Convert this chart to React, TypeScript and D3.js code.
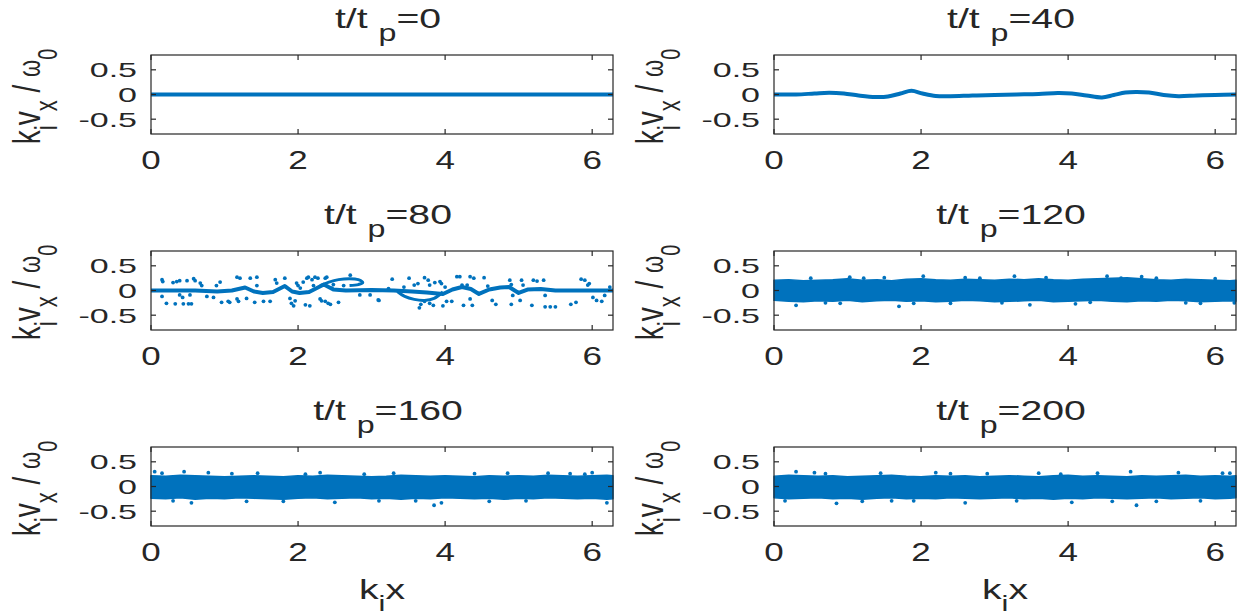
import React from 'react';
import * as d3 from 'd3';

// ---------- data ----------
const xTicks = [0, 2, 4, 6];
const yTicks = [-0.5, 0, 0.5];
const xTickLabels = ['0', '2', '4', '6'];
const yTickLabels = ['-0.5', '0', '0.5'];
const timeLabels = ['0', '40', '80', '120', '160', '200'];

// t/tp = 0 : cold beam, all particles at v = 0
const line0X = [0, 6.283];
const line0V = [0, 0];

// t/tp = 40 : small-amplitude wave
const line40X = [0, 0.3, 0.55, 0.75, 0.95, 1.15, 1.38, 1.55, 1.72, 1.87, 2.02, 2.2, 2.4, 2.7, 3.0, 3.3, 3.6, 3.86, 4.05, 4.25, 4.46, 4.62, 4.78, 4.92, 5.1, 5.3, 5.5, 5.75, 6.0, 6.283];
const line40V = [0, 0.0, 0.02, 0.035, 0.02, -0.02, -0.05, -0.04, 0.02, 0.075, 0.02, -0.03, -0.035, -0.02, -0.01, 0.0, 0.01, 0.03, 0.02, -0.02, -0.06, -0.01, 0.04, 0.05, 0.04, -0.01, -0.035, -0.02, -0.01, 0];

// t/tp = 80 : main sheet with cusps and two vortex loops
const main80X = [0, 0.6, 0.9, 1.1, 1.28, 1.4, 1.52, 1.66, 1.82, 1.92, 2.02, 2.15, 2.35, 2.48, 2.65, 3.0, 3.3, 3.55, 3.75, 3.97, 4.1, 4.23, 4.35, 4.46, 4.6, 4.75, 4.87, 5.0, 5.12, 5.3, 5.5, 5.75, 6.283];
const main80V = [0, 0.0, -0.02, 0.0, 0.06, -0.02, -0.05, -0.03, 0.09, -0.02, -0.05, -0.03, 0.12, 0.02, 0.0, 0.01, 0.0, -0.02, -0.04, -0.07, 0.02, 0.07, 0.03, -0.07, 0.02, 0.06, 0.07, -0.05, 0.02, 0.03, 0.0, 0.0, 0];
const loopUpX = [2.3, 2.42, 2.55, 2.7, 2.82, 2.88, 2.82, 2.7];
const loopUpV = [0.1, 0.17, 0.22, 0.24, 0.22, 0.16, 0.12, 0.1];
const loopDnX = [3.35, 3.45, 3.58, 3.72, 3.85, 3.93, 3.97];
const loopDnV = [-0.02, -0.12, -0.18, -0.2, -0.16, -0.08, -0.03];
const dots80X = [0.15, 0.16, 0.3, 0.35, 0.39, 0.49, 0.58, 0.6, 0.67, 0.69, 0.15, 0.21, 0.33, 0.44, 0.51, 0.55, 0.39, 0.43, 0.53, 0.76, 0.85, 0.89, 0.94, 0.96, 1.05, 1.07, 1.17, 1.21, 1.17, 1.19, 1.3, 1.35, 1.44, 1.44, 1.41, 1.53, 1.62, 1.69, 1.71, 1.82, 1.89, 1.91, 1.94, 1.96, 1.98, 2.0, 2.03, 2.07, 2.1, 2.12, 2.14, 2.16, 2.19, 2.21, 2.23, 2.27, 2.3, 2.32, 2.37, 2.41, 2.44, 2.46, 2.48, 2.37, 2.39, 2.55, 2.62, 2.71, 2.84, 2.98, 3.09, 3.28, 3.1, 3.23, 3.44, 3.51, 3.58, 3.63, 3.72, 3.77, 3.79, 3.86, 3.93, 3.95, 4.0, 3.67, 3.65, 3.72, 3.79, 3.84, 3.97, 4.02, 4.09, 4.16, 4.2, 4.23, 4.3, 4.25, 4.34, 4.37, 4.39, 4.34, 4.53, 4.58, 4.64, 4.69, 4.88, 4.9, 4.92, 4.9, 5.02, 5.04, 5.06, 5.2, 5.25, 5.34, 5.18, 5.36, 5.36, 5.43, 5.5, 5.71, 5.78, 5.85, 5.9, 5.94, 5.96, 6.01, 6.06, 6.13, 6.24, 6.17];
const dots80V = [0.22, 0.18, 0.16, 0.18, 0.2, 0.2, 0.24, 0.2, 0.15, 0.1, -0.12, -0.26, -0.27, -0.27, -0.27, -0.27, -0.09, -0.14, -0.09, -0.12, -0.14, 0.1, 0.17, -0.24, -0.22, -0.24, 0.27, 0.25, -0.17, -0.22, -0.16, 0.25, 0.27, 0.1, -0.24, -0.22, -0.22, 0.22, 0.15, 0.25, -0.16, -0.26, -0.31, -0.21, 0.15, 0.1, 0.05, 0.17, -0.29, 0.25, 0.27, -0.31, 0.22, 0.1, 0.27, 0.25, -0.17, -0.21, -0.22, -0.26, -0.28, 0.05, 0.12, 0.25, 0.27, -0.24, 0.1, 0.31, -0.09, -0.09, -0.19, 0.23, -0.2, 0.04, 0.07, 0.25, 0.11, 0.14, 0.26, 0.21, 0.11, 0.16, 0.18, 0.14, 0.07, -0.28, -0.35, -0.22, -0.26, -0.3, -0.31, -0.22, -0.22, 0.28, 0.28, 0.11, 0.11, -0.3, 0.28, -0.3, 0.25, -0.17, 0.26, 0.09, -0.2, -0.28, 0.21, 0.12, -0.1, -0.28, -0.2, 0.21, 0.11, 0.21, 0.19, 0.21, -0.3, -0.1, -0.33, -0.33, -0.33, -0.28, -0.24, 0.23, 0.21, 0.11, 0.14, -0.14, -0.2, -0.22, 0.07, -0.1];

// t/tp = 120..200 : thermalised clouds (envelopes of the dense band + outliers)
const bandX = [0, 0.2, 0.4, 0.6, 0.8, 1.0, 1.2, 1.4, 1.6, 1.8, 2.0, 2.2, 2.4, 2.6, 2.8, 3.0, 3.2, 3.4, 3.6, 3.8, 4.0, 4.2, 4.4, 4.6, 4.8, 5.0, 5.2, 5.4, 5.6, 5.8, 6.0, 6.2, 6.283];
const band120Top = [0.21, 0.22, 0.2, 0.21, 0.22, 0.24, 0.21, 0.22, 0.2, 0.23, 0.24, 0.22, 0.21, 0.23, 0.22, 0.21, 0.23, 0.22, 0.24, 0.22, 0.21, 0.23, 0.24, 0.25, 0.26, 0.24, 0.22, 0.21, 0.23, 0.22, 0.21, 0.2, 0.21];
const band120Bot = [-0.2, -0.22, -0.23, -0.21, -0.22, -0.2, -0.23, -0.21, -0.2, -0.22, -0.21, -0.23, -0.22, -0.2, -0.21, -0.23, -0.22, -0.21, -0.2, -0.23, -0.22, -0.21, -0.2, -0.22, -0.23, -0.21, -0.22, -0.2, -0.21, -0.23, -0.22, -0.21, -0.22];
const band160Top = [0.22, 0.21, 0.23, 0.22, 0.21, 0.2, 0.21, 0.22, 0.21, 0.2, 0.22, 0.21, 0.23, 0.22, 0.21, 0.2, 0.21, 0.23, 0.22, 0.21, 0.22, 0.21, 0.2, 0.22, 0.21, 0.22, 0.21, 0.23, 0.22, 0.21, 0.22, 0.23, 0.22];
const band160Bot = [-0.24, -0.25, -0.23, -0.26, -0.24, -0.25, -0.23, -0.24, -0.25, -0.26, -0.24, -0.23, -0.25, -0.24, -0.23, -0.25, -0.24, -0.26, -0.24, -0.25, -0.23, -0.24, -0.25, -0.24, -0.26, -0.24, -0.25, -0.23, -0.24, -0.25, -0.24, -0.26, -0.25];
const band200Top = [0.21, 0.23, 0.22, 0.21, 0.22, 0.2, 0.21, 0.22, 0.23, 0.21, 0.2, 0.22, 0.21, 0.22, 0.2, 0.21, 0.22, 0.21, 0.2, 0.22, 0.23, 0.21, 0.22, 0.21, 0.2, 0.22, 0.21, 0.22, 0.23, 0.21, 0.22, 0.21, 0.22];
const band200Bot = [-0.23, -0.25, -0.24, -0.23, -0.25, -0.24, -0.26, -0.24, -0.23, -0.25, -0.24, -0.25, -0.23, -0.24, -0.25, -0.24, -0.23, -0.25, -0.24, -0.26, -0.24, -0.25, -0.23, -0.24, -0.25, -0.24, -0.23, -0.25, -0.24, -0.23, -0.25, -0.24, -0.23];
const out120X = [0.3, 1.03, 1.22, 1.7, 2.03, 3.27, 3.48, 4.53, 4.72, 6.26, 0.5, 0.9, 1.5, 2.4, 2.8, 3.7, 4.1, 5.2, 5.6, 6.0, 0.7, 1.9, 2.6, 3.1, 4.3, 5.0, 5.8];
const out120V = [-0.3, 0.27, 0.25, -0.32, 0.29, 0.29, -0.29, 0.29, 0.25, -0.25, 0.25, -0.26, 0.26, -0.26, 0.25, 0.26, -0.27, 0.25, -0.25, 0.24, -0.25, -0.26, 0.26, -0.25, -0.24, 0.28, -0.26];
const out160X = [0.05, 0.15, 0.45, 0.78, 1.45, 2.3, 3.3, 3.85, 3.95, 4.85, 5.4, 6.0, 0.55, 2.5, 6.2, 0.3, 1.1, 1.8, 2.9, 3.6, 4.4, 5.1, 5.7, 1.3, 2.1, 3.1, 4.6, 5.9];
const out160V = [0.3, 0.27, 0.3, 0.28, 0.27, 0.28, 0.27, -0.38, -0.33, 0.27, 0.27, 0.28, -0.33, -0.32, -0.33, -0.29, 0.26, -0.3, 0.25, -0.29, 0.26, -0.29, 0.26, -0.3, 0.25, -0.29, -0.3, 0.25];
const out200X = [0.3, 0.55, 0.85, 1.45, 2.2, 2.6, 3.6, 4.05, 4.85, 4.93, 5.5, 6.1, 0.15, 0.7, 1.2, 1.9, 2.9, 3.3, 3.9, 4.4, 5.2, 5.8, 1.6, 2.4, 4.6, 6.2];
const out200V = [0.3, 0.28, -0.34, 0.27, 0.28, -0.33, 0.27, -0.32, 0.3, -0.38, 0.28, 0.27, -0.29, 0.26, -0.3, -0.29, 0.26, -0.29, 0.25, 0.27, -0.3, -0.29, -0.29, 0.26, -0.3, 0.27];

// ---------- layout ----------
const W = 1244, H = 615;
const COLS = [[151, 613], [774, 1236]];
const ROWS = [55, 251, 447];
const PH = 79;
const BLUE = '#0072BD';
const INK = '#262626';
const SX = 1.4;
const FONT = "'Liberation Sans', Arial, Helvetica, sans-serif";
const TICK_FS = 25;
const YTICK_FS = 21;
const YSX = 1.62;
const LAB_FS = 28;

const zip = (xs: number[], vs: number[]) => xs.map((x, i) => [x, vs[i]] as [number, number]);

function Panel({ idx }: { idx: number }) {
  const col = idx % 2, row = Math.floor(idx / 2);
  const [l, r] = COLS[col];
  const t = ROWS[row], b = t + PH;
  const x = d3.scaleLinear().domain([0, 2 * Math.PI]).range([l, r]);
  const y = d3.scaleLinear().domain([-0.8, 0.8]).range([b, t]);
  const cx = (l + r) / 2, cy = (t + b) / 2;

  const smooth = d3.line<[number, number]>().x(d => x(d[0])).y(d => y(d[1])).curve(d3.curveCatmullRom.alpha(0.5));
  const lin = d3.line<[number, number]>().x(d => x(d[0])).y(d => y(d[1]));
  const area = d3.area<[number, number, number]>().x(d => x(d[0])).y0(d => y(d[2])).y1(d => y(d[1]));

  const marks: React.ReactNode[] = [];
  const dots = (xs: number[], vs: number[], key: string) =>
    xs.map((xx, i) => <circle key={key + i} cx={x(xx)} cy={y(vs[i])} r={1.9} fill={BLUE} />);

  if (idx === 0) {
    marks.push(<path key="l0" d={lin(zip(line0X, line0V)) || ''} stroke={BLUE} strokeWidth={4} fill="none" />);
  } else if (idx === 1) {
    marks.push(<path key="l40" d={smooth(zip(line40X, line40V)) || ''} stroke={BLUE} strokeWidth={4} fill="none" />);
  } else if (idx === 2) {
    marks.push(<path key="m80" d={lin(zip(main80X, main80V)) || ''} stroke={BLUE} strokeWidth={4} fill="none" strokeLinejoin="round" />);
    marks.push(<path key="lu" d={smooth(zip(loopUpX, loopUpV)) || ''} stroke={BLUE} strokeWidth={3} fill="none" />);
    marks.push(<path key="ld" d={smooth(zip(loopDnX, loopDnV)) || ''} stroke={BLUE} strokeWidth={3} fill="none" />);
    marks.push(...dots(dots80X, dots80V, 'd80'));
  } else {
    const tops = idx === 3 ? band120Top : idx === 4 ? band160Top : band200Top;
    const bots = idx === 3 ? band120Bot : idx === 4 ? band160Bot : band200Bot;
    const ox = idx === 3 ? out120X : idx === 4 ? out160X : out200X;
    const ov = idx === 3 ? out120V : idx === 4 ? out160V : out200V;
    const pts = bandX.map((xx, i) => [xx, tops[i], bots[i]] as [number, number, number]);
    marks.push(<path key="band" d={area(pts) || ''} fill={BLUE} stroke={BLUE} strokeWidth={1.5} strokeLinejoin="round" />);
    marks.push(...dots(ox, ov, 'o' + idx));
  }

  const tl = 5;
  return (
    <g>
      <g>{marks}</g>
      <rect x={l} y={t} width={r - l} height={b - t} fill="none" stroke={INK} strokeWidth={1.2} />
      {xTicks.map((v, i) => (
        <g key={'xt' + i}>
          <line x1={x(v)} x2={x(v)} y1={b} y2={b - tl} stroke={INK} strokeWidth={1.2} />
          <line x1={x(v)} x2={x(v)} y1={t} y2={t + tl} stroke={INK} strokeWidth={1.2} />
          <g transform={`translate(${x(v)},${b + 35}) scale(${SX},1)`}>
            <text textAnchor="middle" fontSize={TICK_FS} fill={INK} fontFamily={FONT}>{xTickLabels[i]}</text>
          </g>
        </g>
      ))}
      {yTicks.map((v, i) => (
        <g key={'yt' + i}>
          <line x1={l} x2={l + tl} y1={y(v)} y2={y(v)} stroke={INK} strokeWidth={1.2} />
          <line x1={r} x2={r - tl} y1={y(v)} y2={y(v)} stroke={INK} strokeWidth={1.2} />
          <g transform={`translate(${l - 14},${y(v) + 7.5}) scale(${YSX},1)`}>
            <text textAnchor="end" fontSize={YTICK_FS} fill={INK} fontFamily={FONT}>{yTickLabels[i]}</text>
          </g>
        </g>
      ))}
      <g transform={`translate(${cx + 6},${t - 27}) scale(${SX},1)`}>
        <text textAnchor="middle" fontSize={LAB_FS} fill={INK} fontFamily={FONT}>
          <tspan>t/t </tspan>
          <tspan dy={13} fontSize={23}>p</tspan>
          <tspan dy={-13}>={timeLabels[idx]}</tspan>
        </text>
      </g>
      <g transform={`translate(${l - 111},${cy + 2}) scale(${SX},1) rotate(-90)`}>
        <text textAnchor="middle" fontSize={LAB_FS} fill={INK} fontFamily={FONT}>
          <tspan>k</tspan>
          <tspan dy={12} fontSize={22}>i</tspan>
          <tspan dy={-12}>v</tspan>
          <tspan dy={12} fontSize={22}>x</tspan>
          <tspan dy={-12}> / </tspan>
          <tspan fontSize={22}>ω</tspan>
          <tspan dy={12} fontSize={20}>0</tspan>
        </text>
      </g>
      {row === 2 && (
        <g transform={`translate(${cx},${b + 73}) scale(${SX},1)`}>
          <text textAnchor="middle" fontSize={LAB_FS} fill={INK} fontFamily={FONT}>
            <tspan>k</tspan>
            <tspan dy={12} fontSize={22}>i</tspan>
            <tspan dy={-12}>x</tspan>
          </text>
        </g>
      )}
    </g>
  );
}

export default function App() {
  return (
    <svg width={W} height={H} style={{ position: 'absolute', left: 0, top: 0, background: '#fff' }}>
      <rect x={0} y={0} width={W} height={H} fill="#fff" />
      {[0, 1, 2, 3, 4, 5].map(i => <Panel key={i} idx={i} />)}
    </svg>
  );
}
